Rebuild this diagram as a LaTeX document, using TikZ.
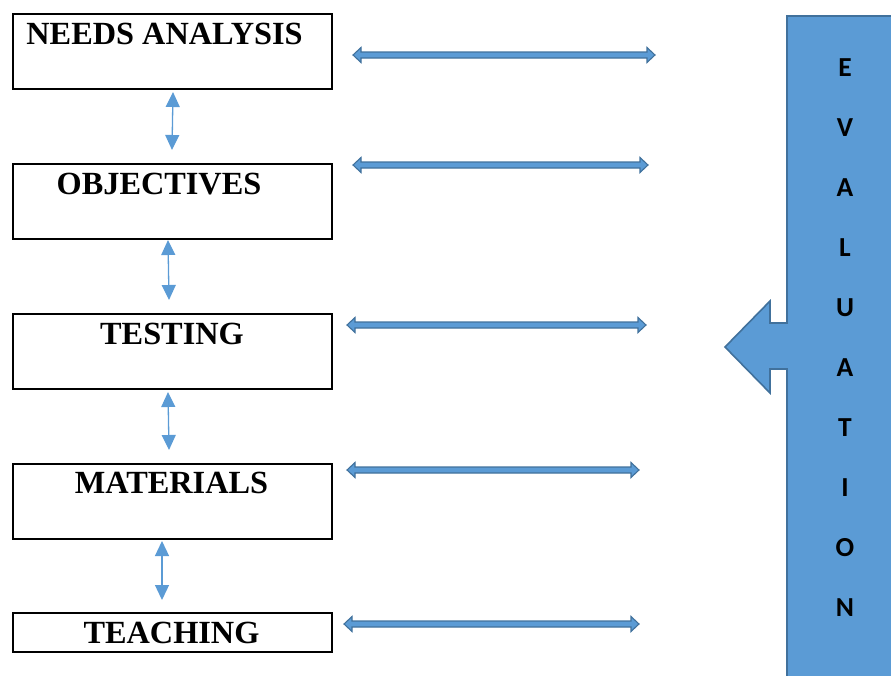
\documentclass[tikz,border=0pt]{standalone}
\usepackage{fontspec}
\setmainfont{Liberation Serif}
\newfontfamily\evalfont{Carlito}
\usetikzlibrary{arrows.meta,calc}

\definecolor{blockfill}{HTML}{5B9BD5}
\definecolor{blockedge}{HTML}{41719C}

\tikzset{
  stagebox/.style={draw=black, line width=1.7pt, fill=white},
  stagelabel/.style={font=\fontsize{32.3}{32.3}\selectfont\bfseries, anchor=base, inner sep=0pt},
  evalletter/.style={font=\evalfont\fontsize{27.5}{27.5}\selectfont\bfseries, inner sep=0pt, anchor=center},
  linkarrow/.style={draw=blockfill, line width=1.3pt,
    {Triangle[length=15pt,width=14pt]}-{Triangle[length=15pt,width=14pt]}},
  blockarrow/.style={fill=blockfill, draw=blockedge, line width=1.1pt, line join=miter},
}

% horizontal double-headed block arrow between two named coordinates
\newcommand\doubleblock[2]{%
  \path[blockarrow] let \p1=(#1), \p2=(#2) in
    (\x1,\y1) -- ({\x1+8pt},{\y1+7.5pt}) -- ({\x1+8pt},{\y1+3pt})
    -- ({\x2-8pt},{\y2+3pt}) -- ({\x2-8pt},{\y2+7.5pt}) -- (\x2,\y2)
    -- ({\x2-8pt},{\y2-7.5pt}) -- ({\x2-8pt},{\y2-3pt})
    -- ({\x1+8pt},{\y1-3pt}) -- ({\x1+8pt},{\y1-7.5pt}) -- cycle;}

\begin{document}
\begin{tikzpicture}[x=1pt,y=-1pt]
\useasboundingbox (0,0) rectangle (891,675);
\clip (0,0) rectangle (891,675);

% stage boxes
\node[stagebox, anchor=north west, minimum width=319pt, minimum height=75pt] (needs) at (12,13) {};
\node[stagebox, anchor=north west, minimum width=319pt, minimum height=75pt] (obj) at (12,163) {};
\node[stagebox, anchor=north west, minimum width=319pt, minimum height=75pt] (test) at (12,313) {};
\node[stagebox, anchor=north west, minimum width=319pt, minimum height=75pt] (mat) at (12,463) {};
\node[stagebox, anchor=north west, minimum width=319pt, minimum height=39pt] (teach) at (12,612) {};

\node[stagelabel] (needsT) at (164.5,44) {NEEDS ANALYSIS};
\node[stagelabel] (objT) at (159,194) {OBJECTIVES};
\node[stagelabel] (testT) at (172,344) {TESTING};
\node[stagelabel] (matT) at (171.5,493) {MATERIALS};
\node[stagelabel] (teachT) at (171.5,643) {TEACHING};

% links between consecutive stages
\coordinate (l1a) at (173,92);  \coordinate (l1b) at (172,150);
\coordinate (l2a) at (168,240); \coordinate (l2b) at (169,300);
\coordinate (l3a) at (168,392); \coordinate (l3b) at (169,450);
\coordinate (l4a) at (162,541); \coordinate (l4b) at (162,600);
\draw[linkarrow] (l1a) -- (l1b);
\draw[linkarrow] (l2a) -- (l2b);
\draw[linkarrow] (l3a) -- (l3b);
\draw[linkarrow] (l4a) -- (l4b);

% evaluation column with its left-pointing arrow
\path[blockarrow, line width=1.6pt] (787,16) -- (900,16) -- (900,690) -- (787,690)
  -- (787,369) -- (770,369) -- (770,393) -- (725,347) -- (770,301)
  -- (770,323) -- (787,323) -- cycle;
\foreach \ch [count=\i from 0] in {E,V,A,L,U,A,T,I,O,N}
  \node[evalletter] (ev\i) at (845,{68+60*\i}) {\ch};

% feedback arrows between stages and evaluation
\coordinate (h1a) at (353,55);  \coordinate (h1b) at (655,55);
\coordinate (h2a) at (353,165); \coordinate (h2b) at (648,165);
\coordinate (h3a) at (347,325); \coordinate (h3b) at (646,325);
\coordinate (h4a) at (347,470); \coordinate (h4b) at (639,470);
\coordinate (h5a) at (344,624); \coordinate (h5b) at (639,624);
\doubleblock{h1a}{h1b}
\doubleblock{h2a}{h2b}
\doubleblock{h3a}{h3b}
\doubleblock{h4a}{h4b}
\doubleblock{h5a}{h5b}
\end{tikzpicture}
\end{document}
